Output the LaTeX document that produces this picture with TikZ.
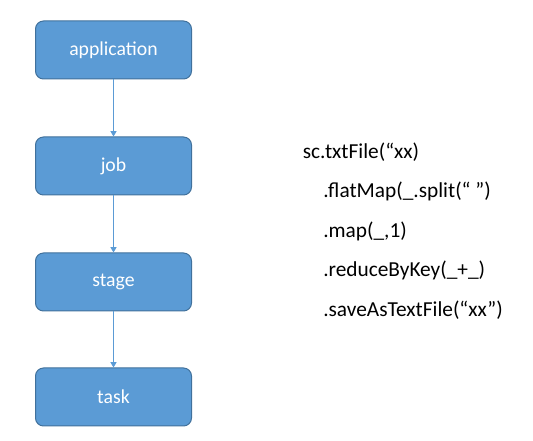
\documentclass[tikz,border=0pt]{standalone}
\usepackage{fontspec}
\setmainfont{Carlito}
\usetikzlibrary{arrows.meta}
\definecolor{boxblue}{HTML}{5B9BD5}
\definecolor{boxline}{HTML}{41719C}
\begin{document}
\begin{tikzpicture}[x=0.75pt,y=-0.75pt,
		level/.style={draw=boxline,line width=0.75pt,fill=boxblue,rounded corners=6pt,
			minimum width=117pt,minimum height=43.5pt,text=white,font=\fontsize{14.8}{17}\selectfont},
		link/.style={draw=boxblue,line width=0.75pt,-{Triangle[width=4.5pt,length=4pt]}},
		code/.style={anchor=base west,inner sep=0pt,font=\fontsize{16}{19}\selectfont}]
				\useasboundingbox (0,0) rectangle (533,441);
				\node[level] (app) at (113.5,50) {application};
				\node[level] (job) at (113.5,166) {job};
				\node[level] (stage) at (113.5,282) {stage};
				\node[level] (task) at (113.5,397) {task};
				\draw[link] (app) -- (job);
				\draw[link] (job) -- (stage);
				\draw[link] (stage) -- (task);
				\node[code] (l1) at (302.5,158.3) {sc.txtFile(“xx)};
				\node[code] (l2) at (323,197.8) {.flatMap(\_.split(“ ”)};
				\node[code] (l3) at (323,237.3) {.map(\_,1)};
				\node[code] (l4) at (323,276.8) {.reduceByKey(\_+\_)};
				\node[code] (l5) at (323,316.3) {.saveAsTextFile(“xx”)};
			\end{tikzpicture}
\end{document}
